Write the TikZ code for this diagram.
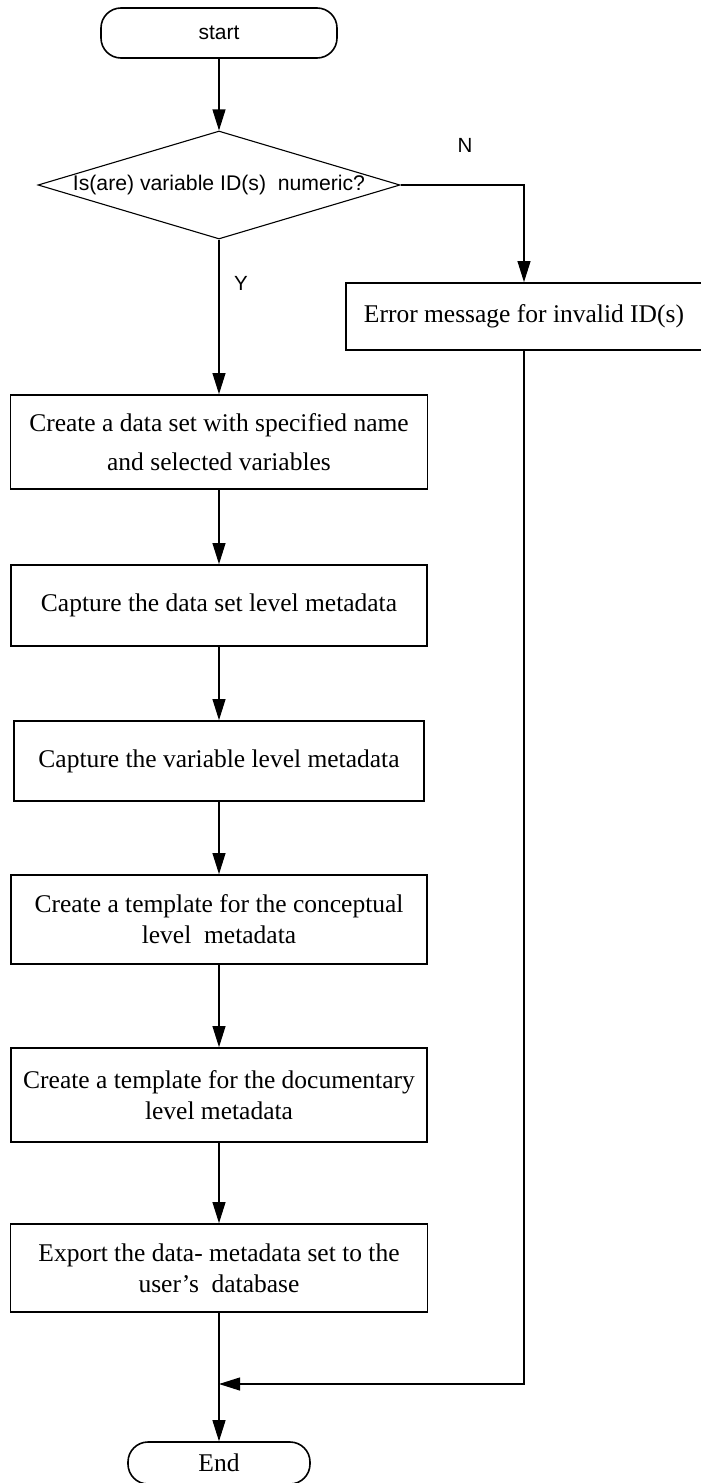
\documentclass[tikz,border=0pt]{standalone}
\usepackage{fontspec}
\setmainfont{Liberation Serif}
\newfontfamily\labelsans{Liberation Sans}
\usetikzlibrary{arrows.meta,shapes.geometric}

\tikzset{
  flowline/.style={line width=1.1pt, draw=black},
  flowarrow/.style={flowline, -{Triangle[length=21pt,width=13pt]}},
  procbox/.style={draw=black, line width=1.8pt, rectangle, inner sep=0pt,
    align=center, font=\fontsize{25.5}{31}\selectfont},
  terminal/.style={draw=black, line width=1.6pt, rectangle, rounded corners=20pt,
    inner sep=0pt, align=center},
  decision/.style={draw=black, line width=1.1pt, diamond, aspect=3.35, inner sep=0pt,
    font=\labelsans\fontsize{21.2}{24}\selectfont},
  branchlabel/.style={font=\labelsans\fontsize{20.5}{24}\selectfont, inner sep=0pt}
}

\begin{document}
\begin{tikzpicture}[x=1pt,y=-1pt]
  \useasboundingbox (0,0) rectangle (701,1483);

  % terminals
  \node[terminal, minimum width=236pt, minimum height=50pt,
        font=\labelsans\fontsize{21}{24}\selectfont] (start) at (219,33) {start};
  \node[terminal, minimum width=182pt, minimum height=42pt,
        font=\fontsize{25.5}{31}\selectfont] (end) at (219,1463) {End};

  % decision
  \node[decision, minimum width=362pt, minimum height=108pt] (dia) at (219,185)
        {Is(are) variable ID(s)\ \ numeric?};

  % error branch
  \node[procbox, minimum width=356pt, minimum height=67pt] (err) at (524,316.5)
        {Error message for invalid ID(s)};

  % main process steps
  \node[procbox, minimum width=417pt, minimum height=94pt,
        font=\fontsize{25.5}{39}\selectfont] (s1) at (219,442)
        {Create a data set with specified name\\and selected variables};
  \node[procbox, minimum width=416pt, minimum height=81pt] (s2) at (219,605.5)
        {Capture the data set level metadata};
  \node[procbox, minimum width=410pt, minimum height=80pt] (s3) at (219,761)
        {Capture the variable level metadata};
  \node[procbox, minimum width=416pt, minimum height=89pt] (s4) at (219,919.5)
        {Create a template for the conceptual\\level\ \ metadata};
  \node[procbox, minimum width=416pt, minimum height=94pt] (s5) at (219,1095)
        {Create a template for the documentary\\level metadata};
  \node[procbox, minimum width=417pt, minimum height=88pt] (s6) at (219,1268)
        {Export the data- metadata set to the\\user’s\ \ database};

  % branch labels
  \node[branchlabel] (lblN) at (465,145) {N};
  \node[branchlabel] (lblY) at (241,283) {Y};

  % junction where the error path rejoins
  \coordinate (join) at (219,1384);

  % connectors
  \draw[flowarrow] (start) -- (dia);
  \draw[flowarrow] (dia.east) -| (err.north);
  \draw[flowarrow] (dia.south) -- (s1.north);
  \draw[flowarrow] (s1) -- (s2);
  \draw[flowarrow] (s2) -- (s3);
  \draw[flowarrow] (s3) -- (s4);
  \draw[flowarrow] (s4) -- (s5);
  \draw[flowarrow] (s5) -- (s6);
  \draw[flowarrow] (s6) -- (end);
  \draw[flowarrow] (err.south) |- (join);
\end{tikzpicture}
\end{document}
